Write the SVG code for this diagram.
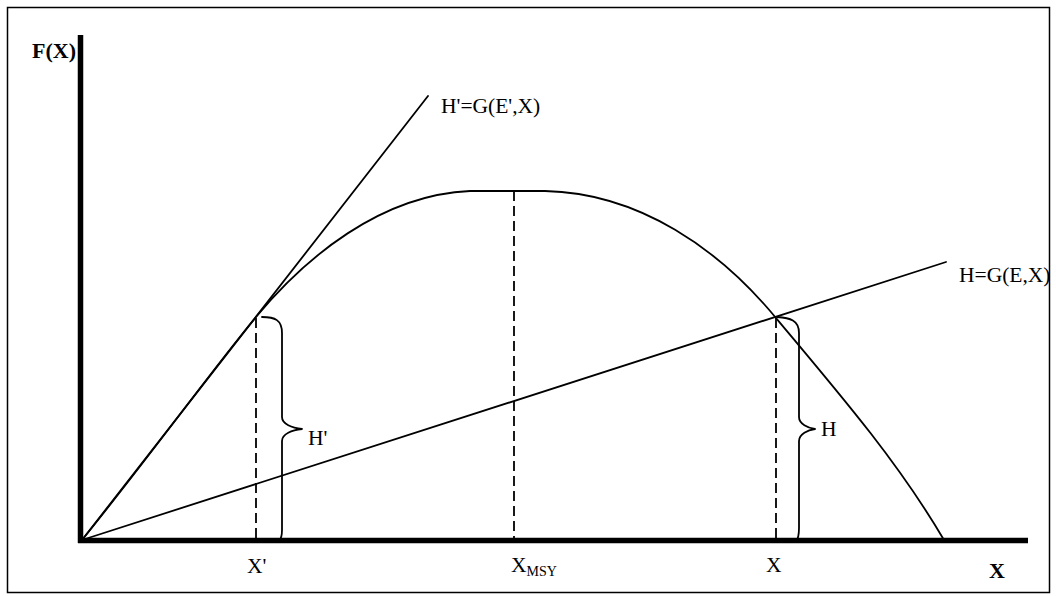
<svg xmlns="http://www.w3.org/2000/svg" width="1056" height="596" viewBox="0 0 1056 596">
<style>
.ln{fill:none;stroke:#000;stroke-width:1.8;stroke-linejoin:round;stroke-linecap:round}
.dash{fill:none;stroke:#000;stroke-width:1.8;stroke-dasharray:10,5}
.ax{stroke:#000;stroke-width:5.5;fill:none}
.t{font-family:"Liberation Serif","Times New Roman",serif;font-size:21.5px;fill:#000}
.tb{font-family:"Liberation Serif","Times New Roman",serif;font-size:22px;font-weight:bold;fill:#000}
.sub{font-size:14px}
</style>
<defs>
<clipPath id="frame"><rect x="7" y="7" width="1043" height="586"/></clipPath>
</defs>
<rect id="frame-border" x="7.5" y="7.5" width="1042" height="585" fill="#fff" stroke="#000" stroke-width="1.5"/>
<g id="axes">
<line class="ax" x1="80.5" y1="35" x2="80.5" y2="543"/>
<line class="ax" x1="78" y1="540.5" x2="1028" y2="540.5"/>
</g>
<g id="connectors">
<path id="fx-curve" class="ln" d="M82,540 C150,456 215,366 256,317 C305,258 380,195 470,191 L545,191 C640,193 720,250 776,318 C845,400 900,465 944,540"/>
<line id="h-prime-line" class="ln" x1="82" y1="540" x2="428" y2="96"/>
<line id="h-line" class="ln" x1="82" y1="540" x2="946" y2="262"/>
<line class="dash" x1="256" y1="318" x2="256" y2="540"/>
<line class="dash" x1="514" y1="191" x2="514" y2="540"/>
<line class="dash" x1="776" y1="318" x2="776" y2="540"/>
<path id="brace-left" class="ln" d="M262,317 C275,317 282,320 282,333 L282,417 C282,424 292,428 302,429 C292,430 282,434 282,441 L282,530 C282,536 281,539 279,541"/>
<path id="brace-right" class="ln" d="M777,317 C790,318 799,320 799,333 L799,417 C799,424 808,428 815,429 C808,430 799,434 799,441 L799,528 C799,535 798,539 796,541"/>
</g>
<g id="labels" clip-path="url(#frame)">
<text class="tb" x="32" y="58">F(X)</text>
<text class="t" x="441" y="113">H'=G(E',X)</text>
<text class="t" x="959" y="282">H=G(E,X)</text>
<text class="t" x="308" y="445">H'</text>
<text class="t" x="821" y="436">H</text>
<text class="t" x="247" y="573">X'</text>
<text class="t" x="511" y="572">X<tspan class="sub" dy="4">MSY</tspan></text>
<text class="t" x="766" y="572">X</text>
<text class="tb" x="989" y="578">X</text>
</g>
</svg>
